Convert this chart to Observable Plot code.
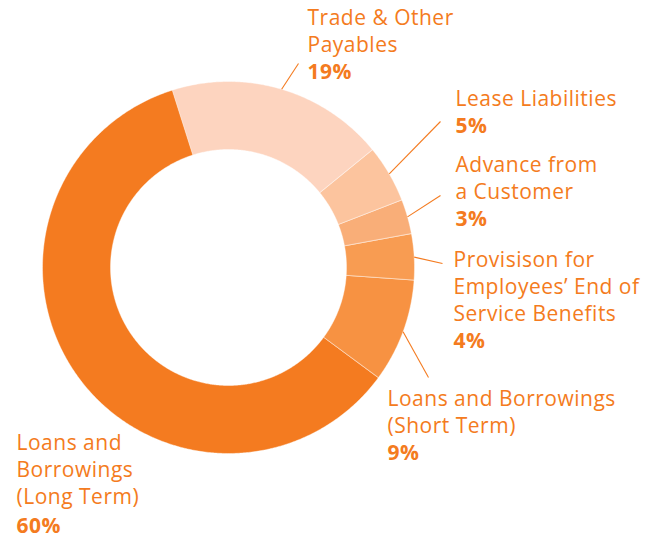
<!DOCTYPE html>
<html><head><meta charset="utf-8">
<script src="https://cdn.jsdelivr.net/npm/d3@7"></script>
<script src="https://cdn.jsdelivr.net/npm/@observablehq/plot@0.6"></script>
<style>body{margin:0;background:#fff} #chart text{letter-spacing:0.5px}</style>
</head><body><div id="chart"></div>
<script>
// ---- data ----
const categories = ["Trade & Other Payables", "Lease Liabilities", "Advance from a Customer",
  "Provisison for Employees’ End of Service Benefits", "Loans and Borrowings (Short Term)",
  "Loans and Borrowings (Long Term)"];
const shares = [19, 5, 3, 4, 9, 60];
const labelText = ["Trade & Other\nPayables", "Lease Liabilities", "Advance from\na Customer",
  "Provisison for\nEmployees’ End of\nService Benefits", "Loans and Borrowings\n(Short Term)",
  "Loans and\nBorrowings\n(Long Term)"];
const pctLabels = ["19%", "5%", "3%", "4%", "9%", "60%"];

// ---- styles / layout ----
const colors = ["#FDD4BF", "#FCC49E", "#F9AE78", "#F89C52", "#F79242", "#F47B20"];
const textColor = "#F47B20";
const W = 660, H = 538, cx = 228, cy = 267, R = 186, innerFrac = 118 / 186;
const startDeg = -17.6;
// label layout in pixels: text x, name baseline, pct baseline, leader end (or null)
const labelLayout = [
  {x: 307, nb: 51, pb: 78, lx: 298, ly: 63},
  {x: 455, nb: 105, pb: 132, lx: 440, ly: 121},
  {x: 455, nb: 198, pb: 225, lx: 440, ly: 195},
  {x: 453, nb: 320, pb: 347, lx: 442, ly: 263},
  {x: 387, nb: 432, pb: 459, lx: 428, ly: 377},
  {x: 16, nb: 503, pb: 532, lx: null, ly: null}
];
const toX = px => (px - cx) / R, toY = py => (cy - py) / R;

const pie = d3.pie().sort(null).value(d => d)
  .startAngle(startDeg * Math.PI / 180).endAngle((startDeg + 360) * Math.PI / 180);
const arcs = pie(shares);

// polygon vertices for each ring slice
const ringPts = [];
arcs.forEach((a, i) => {
  const n = Math.max(4, Math.ceil((a.endAngle - a.startAngle) / (Math.PI / 360)));
  for (let k = 0; k <= n; k++) {
    const t = a.startAngle + (a.endAngle - a.startAngle) * k / n;
    ringPts.push({key: categories[i], x: Math.sin(t), y: Math.cos(t)});
  }
  for (let k = n; k >= 0; k--) {
    const t = a.startAngle + (a.endAngle - a.startAngle) * k / n;
    ringPts.push({key: categories[i], x: innerFrac * Math.sin(t), y: innerFrac * Math.cos(t)});
  }
});

const leaders = arcs.map((a, i) => {
  const m = (a.startAngle + a.endAngle) / 2;
  const L = labelLayout[i];
  return L.lx == null ? null : {x1: Math.sin(m), y1: Math.cos(m), x2: toX(L.lx), y2: toY(L.ly)};
}).filter(d => d);

const names = labelText.map((t, i) => ({t, x: toX(labelLayout[i].x), y: toY(labelLayout[i].nb)}));
const pcts = pctLabels.map((t, i) => ({t, x: toX(labelLayout[i].x), y: toY(labelLayout[i].pb)}));

const font = "Open Sans, sans-serif";
const chart = Plot.plot({
  width: W, height: H, margin: 0,
  x: {domain: [toX(0), toX(W)], axis: null},
  y: {domain: [toY(H), toY(0)], axis: null},
  color: {domain: categories, range: colors},
  marks: [
    Plot.line(ringPts, {x: "x", y: "y", z: "key", fill: "key", stroke: "#fff", strokeWidth: 0.6,
      strokeOpacity: 0.7, curve: "linear-closed"}),
    Plot.link(leaders, {x1: "x1", y1: "y1", x2: "x2", y2: "y2", stroke: textColor, strokeWidth: 1.1}),
    Plot.text(names, {x: "x", y: "y", text: "t", textAnchor: "start", lineAnchor: "bottom",
      fill: textColor, fontSize: 21, lineHeight: 1.27, fontFamily: font}),
    Plot.text(pcts, {x: "x", y: "y", text: "t", textAnchor: "start", lineAnchor: "bottom",
      fill: textColor, fontSize: 21, fontWeight: "bold", fontFamily: font})
  ]
});
document.getElementById("chart").append(chart);
</script>
</body></html>
